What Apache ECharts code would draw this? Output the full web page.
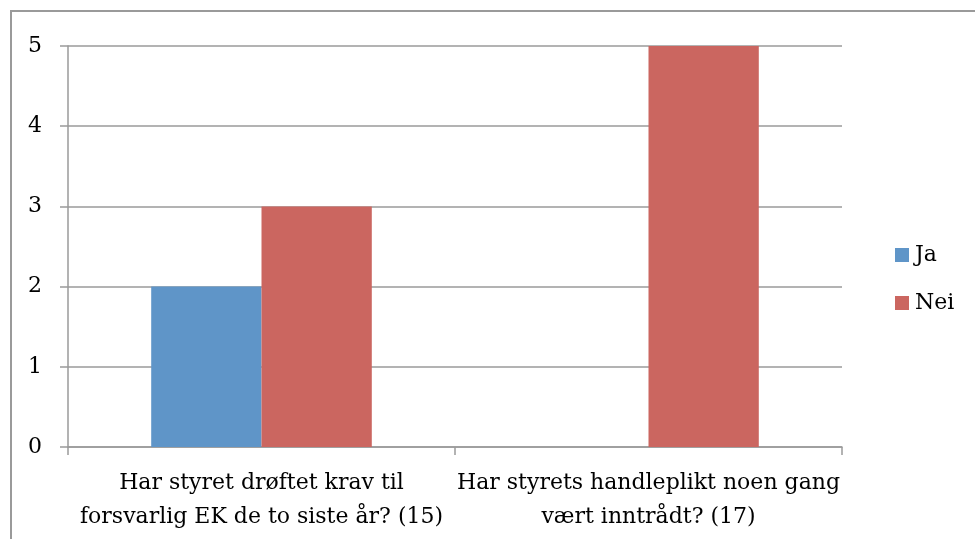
<!DOCTYPE html>
<html>
<head>
<meta charset="utf-8">
<script src="https://cdn.jsdelivr.net/npm/echarts@6/dist/echarts.min.js"></script>
<style>html,body{margin:0;padding:0;background:#fff}#c{width:975px;height:539px}</style>
</head>
<body>
<div id="c"></div>
<script>
const categories = ["Har styret drøftet krav til\nforsvarlig EK de to siste år? (15)", "Har styrets handleplikt noen gang\nvært inntrådt? (17)"];
const seriesNames = ["Ja", "Nei"];
const jaValues = [2, 0];
const neiValues = [3, 5];
const yTicks = [0, 1, 2, 3, 4, 5];

const FONT = "DejaVu Serif";
const chart = echarts.init(document.getElementById('c'), null, {renderer: 'canvas'});
chart.setOption({
  animation: false,
  backgroundColor: '#fff',
  textStyle: {fontFamily: FONT, color: '#000'},
  graphic: [{
    type: 'rect', shape: {x: 11, y: 11, width: 1000, height: 600},
    style: {fill: 'none', stroke: '#9a9a9a', lineWidth: 2}, silent: true, z: -1
  }],
  grid: {left: 68, right: 133, top: 46, bottom: 92, containLabel: false},
  legend: {
    orient: 'vertical', left: 890, top: 239, itemWidth: 14, itemHeight: 14, itemGap: 26,
    icon: 'rect', data: seriesNames,
    textStyle: {fontFamily: FONT, fontSize: 22, color: '#000', padding: [0, 0, 0, 1]}
  },
  xAxis: {
    type: 'category', data: categories,
    axisLine: {lineStyle: {color: '#9a9a9a', width: 1.5}},
    axisTick: {show: true, alignWithLabel: false, length: 8, lineStyle: {color: '#9a9a9a', width: 1.5}},
    axisLabel: {fontFamily: FONT, fontSize: 22, color: '#000', lineHeight: 34, margin: 19, interval: 0}
  },
  yAxis: {
    type: 'value', min: yTicks[0], max: yTicks[yTicks.length - 1], interval: 1,
    axisLine: {show: true, lineStyle: {color: '#9a9a9a', width: 1.5}},
    axisTick: {show: true, length: 8, lineStyle: {color: '#9a9a9a', width: 1.5}},
    splitLine: {lineStyle: {color: '#9a9a9a', width: 1.5}},
    axisLabel: {fontFamily: FONT, fontSize: 22, color: '#000', margin: 26, align: 'right'}
  },
  series: [
    {name: seriesNames[0], type: 'bar', data: jaValues, barGap: '0%', barCategoryGap: '43%', itemStyle: {color: '#5F95C8'}},
    {name: seriesNames[1], type: 'bar', data: neiValues, barGap: '0%', barCategoryGap: '43%', itemStyle: {color: '#CB6660'}}
  ]
});
</script>
</body>
</html>
